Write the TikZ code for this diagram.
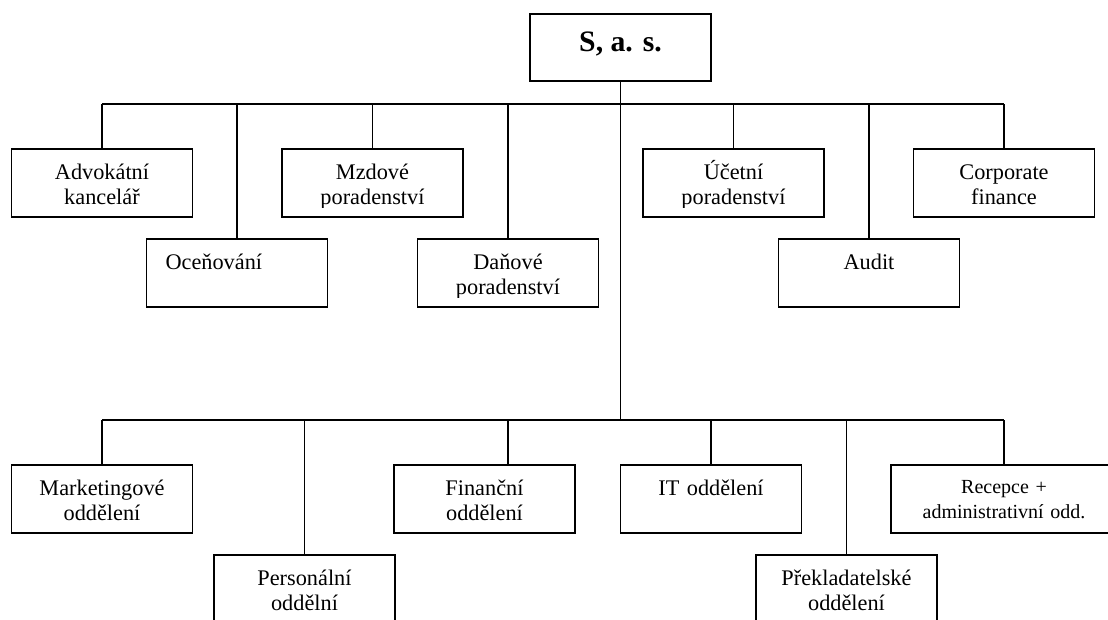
\documentclass[tikz,border=0pt]{standalone}
\usepackage{fontspec}
\setmainfont{Liberation Serif}
\newcommand\boxtxt[5][31pt]{%
  \begin{scope}
    \clip ([yshift=-1pt]#2.north west) rectangle ([yshift=10pt]#2.south east);
    \node[txt,#4] (#3) at ([yshift=-#1]#2.north) {#5};
  \end{scope}}
\begin{document}
\begin{tikzpicture}[x=1pt,y=-1pt,
  bx/.style={draw=black,line width=1.7pt,minimum width=181pt,minimum height=68pt,inner sep=0pt,fill=white},
  ln/.style={draw=black,line width=1.6pt},
  txt/.style={inner sep=0pt,anchor=base,text width=181pt,align=center,font=\fontsize{22.3}{25.5}\selectfont}]
\clip (0,0) rectangle (1108,620);
\fill[white] (0,0) rectangle (1108,620);

% boxes
\node[bx,minimum height=67pt] (top) at (620.5,47.5) {};
\node[bx] (adv)  at (102,183) {};
\node[bx] (oce)  at (237,273) {};
\node[bx] (mzd)  at (372.5,183) {};
\node[bx] (dan)  at (508,273) {};
\node[bx] (uce)  at (733.5,183) {};
\node[bx] (aud)  at (869,273) {};
\node[bx] (corp) at (1004,183) {};
\node[bx] (mkt)  at (102,499) {};
\node[bx] (per)  at (304.5,589) {};
\node[bx] (fin)  at (484.5,499) {};
\node[bx] (it)   at (711,499) {};
\node[bx] (pre)  at (846.5,589) {};
\node[bx,minimum width=226pt] (rec) at (1004,499) {};

% buses
\coordinate (ub) at (621,104);
\coordinate (lb) at (621,420);
\coordinate (fd) at ([xshift=23.5pt]fin.north);

\draw[ln] (top.south) -- (top.south |- lb);
\draw[ln] (adv.north |- ub) -- (corp.north |- ub);
\foreach \n in {adv,oce,mzd,dan,uce,aud,corp}
  \draw[ln] (\n.north) -- (\n.north |- ub);
\draw[ln] (mkt.north |- lb) -- (rec.north |- lb);
\foreach \n in {mkt,per,it,pre,rec}
  \draw[ln] (\n.north) -- (\n.north |- lb);
\draw[ln] (fd) -- (fd |- lb);

% texts
\node[inner sep=0pt,anchor=base,font=\bfseries\fontsize{29.7}{34}\selectfont] (topT) at ([yshift=-38pt]top.north) {S, a. s.};
\boxtxt{adv}{advT}{}{Advokátní\\kancelář}
\boxtxt{oce}{oceT}{align=left,xshift=19pt}{Oceňování}
\boxtxt{mzd}{mzdT}{}{Mzdové\\poradenství}
\boxtxt{dan}{danT}{}{Daňové\\poradenství}
\boxtxt{uce}{uceT}{}{Účetní\\poradenství}
\boxtxt{aud}{audT}{}{Audit}
\boxtxt{corp}{corpT}{}{Corporate\\finance}
\boxtxt{mkt}{mktT}{}{Marketingové\\oddělení}
\boxtxt{per}{perT}{}{Personální\\oddělní}
\boxtxt{fin}{finT}{}{Finanční\\oddělení}
\boxtxt{it}{itT}{}{IT oddělení}
\boxtxt{pre}{preT}{}{Překladatelské\\oddělení}
\boxtxt[29pt]{rec}{recT}{text width=226pt,font=\fontsize{20}{25}\selectfont}{Recepce +\\administrativní odd.}
\end{tikzpicture}
\end{document}
